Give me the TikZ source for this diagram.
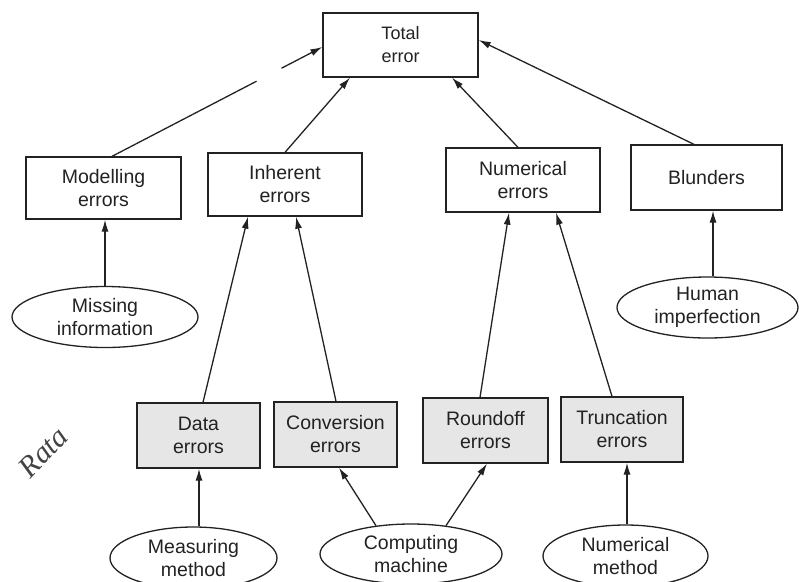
\documentclass[tikz,border=0pt]{standalone}
\usepackage{fontspec}
\setmainfont{Liberation Sans}
\newfontfamily\notefont{Liberation Serif}
\usetikzlibrary{calc,arrows.meta,shapes.geometric}
\definecolor{ink}{HTML}{222222}
\definecolor{shade}{HTML}{E6E6E6}
\begin{document}
\begin{tikzpicture}[x=1pt,y=-1pt,
  lbl/.style={font=\fontsize{19.5}{23}\selectfont,text=ink,align=center,inner sep=0pt},
  box/.style={lbl,draw=ink,line width=1.3pt,rectangle,minimum width=154pt,minimum height=63pt},
  srcbox/.style={box,fill=shade,minimum width=123pt,minimum height=65pt},
  cause/.style={lbl,draw=ink,line width=1.3pt,ellipse},
  arr/.style={draw=ink,line width=1.3pt,-{Latex[length=12pt,width=7pt]}},
  plain/.style={draw=ink,line width=1.3pt}]
\useasboundingbox (0,0) rectangle (799,581);
\clip (0,0) rectangle (799,581);

% top level
\node[box,font=\fontsize{18}{23}\selectfont,minimum width=155pt,minimum height=64pt] (total) at (400.5,45) {Total\\error};

% second level
\node[box,minimum width=155pt,minimum height=62pt] (modelling) at (103.5,188) {Modelling\\errors};
\node[box] (inherent) at (285,184.5) {Inherent\\errors};
\node[box,minimum height=64pt] (numerical) at (523,180) {Numerical\\errors};
\node[box,minimum width=151pt,minimum height=65pt] (blunders) at (706.5,177.5) {Blunders};

% causes of modelling errors and blunders
\node[cause,minimum width=186pt,minimum height=61pt] (missing) at (105,317) {Missing\\information};
\node[cause,minimum width=181pt,minimum height=61pt] (human) at (707.5,307.5) {Human\\imperfection};

% shaded sources
\node[srcbox] (data) at (198.5,435.5) {Data\\errors};
\node[srcbox] (conversion) at (335.5,434.5) {Conversion\\errors};
\node[srcbox,minimum width=125pt] (roundoff) at (485.5,430.5) {Roundoff\\errors};
\node[srcbox,minimum width=122pt] (truncation) at (622,429.5) {Truncation\\errors};

% bottom causes
\node[cause,minimum width=167pt,minimum height=62pt] (measuring) at (193.5,558) {Measuring\\method};
\node[cause,minimum width=182pt,minimum height=60pt] (computing) at (411,554) {Computing\\machine};
\node[cause,minimum width=165pt,minimum height=62pt] (nummethod) at (625.5,556) {Numerical\\method};

% modelling errors -> total error, with a break in the line
\coordinate (mA) at ($(modelling.north)+(8.5,0)$);
\coordinate (mB) at ($(total.west)+(0,2)$);
\draw[plain] (mA) -- ($(mA)!0.687!(mB)$);
\draw[arr] ($(mA)!0.806!(mB)$) -- (mB);

% second level -> total error
\draw[arr] (inherent.north) -- ($(total.south)+(-50.5,0)$);
\draw[arr] ($(numerical.north)+(-5,0)$) -- ($(total.south)+(51.5,0)$);
\draw[arr] ($(blunders.north)+(-12.5,0)$) -- ($(total.east)+(0,-5)$);

\draw[arr] (missing.north) -- ($(modelling.south)+(1.5,0)$);
\draw[arr] ($(human.north)+(5.5,0)$) -- ($(blunders.south)+(6.5,0)$);

% sources -> second level
\draw[arr] ($(data.north)+(4.5,0)$) -- ($(inherent.south)+(-37,0)$);
\draw[arr] ($(conversion.north)+(0.5,0)$) -- ($(inherent.south)+(11,0)$);
\draw[arr] ($(roundoff.north)+(-5.5,0)$) -- ($(numerical.south)+(-14,0)$);
\draw[arr] ($(truncation.north)+(-10,0)$) -- ($(numerical.south)+(33,0)$);

% bottom causes -> sources
\draw[arr] ($(measuring.north)+(5.5,0)$) -- ($(data.south)+(0.5,0)$);
\draw[arr] (computing.141) -- ($(conversion.south)+(3.5,0)$);
\draw[arr] (computing.39) -- ($(roundoff.south)+(1.5,0)$);
\draw[arr] ($(nummethod.north)+(1.5,0)$) -- ($(truncation.south)+(5,0)$);

% handwritten note
\node[font=\fontsize{30}{30}\notefont\itshape,text=ink!85,rotate=46,inner sep=0pt] (note) at (43,452) {Rata};
\end{tikzpicture}
\end{document}
